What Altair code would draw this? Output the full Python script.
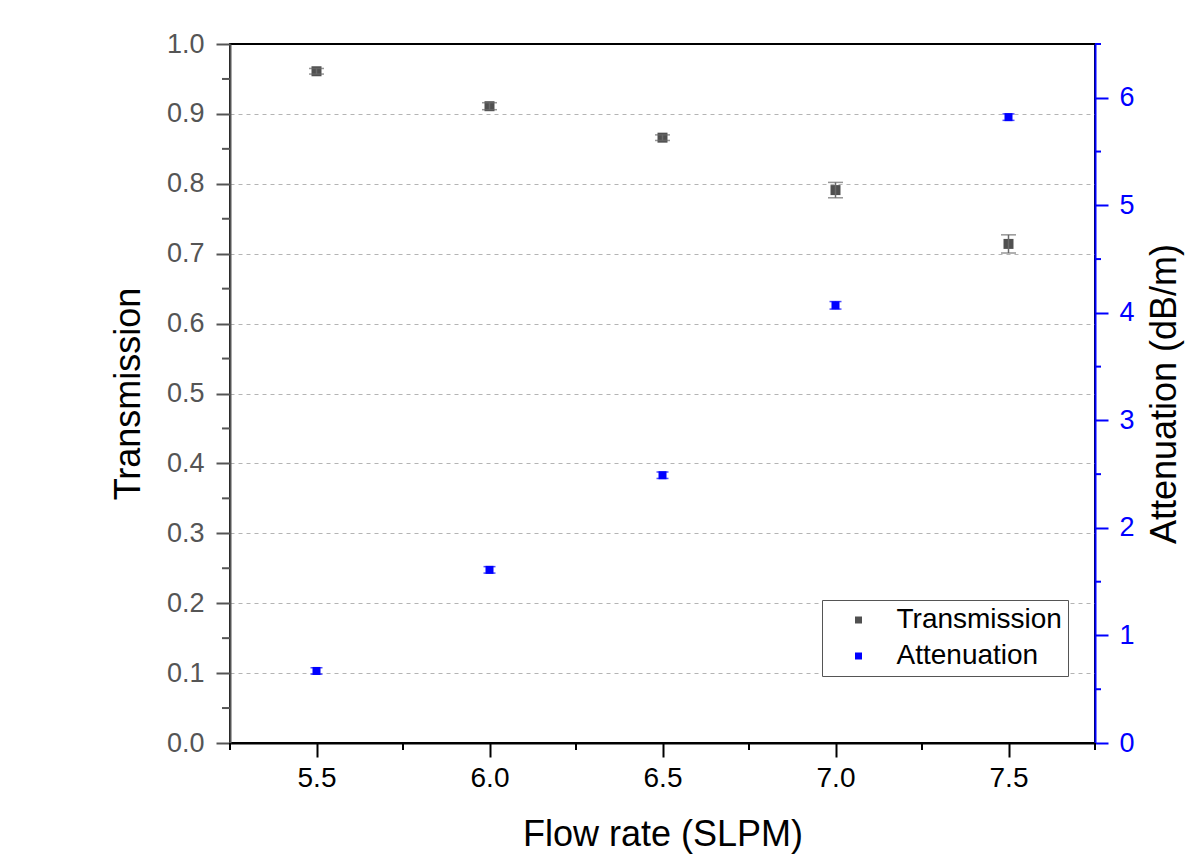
import altair as alt
import pandas as pd

FONT = "Liberation Sans"

# ---- data ----
flow = [5.5, 6.0, 6.5, 7.0, 7.5]
transmission = [0.961, 0.911, 0.866, 0.791, 0.714]
transmission_err = [0.004, 0.005, 0.004, 0.011, 0.013]
attenuation = [0.67, 1.61, 2.49, 4.07, 5.82]
attenuation_err = [0.03, 0.03, 0.03, 0.035, 0.03]

x_ticks = [5.5, 6.0, 6.5, 7.0, 7.5]
x_minor = [5.25, 5.75, 6.25, 6.75, 7.25, 7.75]
t_ticks = [0.0, 0.1, 0.2, 0.3, 0.4, 0.5, 0.6, 0.7, 0.8, 0.9, 1.0]
t_minor = [0.05, 0.15, 0.25, 0.35, 0.45, 0.55, 0.65, 0.75, 0.85, 0.95]
a_ticks = [0, 1, 2, 3, 4, 5, 6]
a_minor = [0.5, 1.5, 2.5, 3.5, 4.5, 5.5, 6.5]

series = ["Transmission", "Attenuation"]
colors = ["#505050", "#0000ff"]

W, H = 865, 699

df_t = pd.DataFrame({
    "flow": flow,
    "val": transmission,
    "lo": [v - e for v, e in zip(transmission, transmission_err)],
    "hi": [v + e for v, e in zip(transmission, transmission_err)],
    "series": series[0],
})
df_a = pd.DataFrame({
    "flow": flow,
    "val": attenuation,
    "lo": [v - e for v, e in zip(attenuation, attenuation_err)],
    "hi": [v + e for v, e in zip(attenuation, attenuation_err)],
    "series": series[1],
})

xscale = alt.Scale(domain=[5.25, 7.75], nice=False, zero=False)
tscale = alt.Scale(domain=[0, 1], nice=False)
ascale = alt.Scale(domain=[0, 6.5], nice=False)
cscale = alt.Scale(domain=series, range=colors)

xaxis = alt.Axis(
    values=x_ticks, format=".1f", grid=False,
    domainColor="black", domainWidth=2, tickColor="black", tickWidth=2, tickSize=14,
    labelFontSize=28, labelColor="black", labelPadding=7, labelFlush=False,
    title="Flow rate (SLPM)", titleFontSize=36, titleFontWeight="normal",
    titleColor="black", titleY=102, titleBaseline="alphabetic",
)
taxis = alt.Axis(
    values=t_ticks, format=".1f", grid=True, gridDash=[4, 4], gridColor="#b4b4b4", gridWidth=1,
    gridOpacity={"condition": {"test": "datum.value <= 0 || datum.value >= 1", "value": 0}, "value": 1},
    domainColor="#555555", domainWidth=2, tickColor="#555555", tickWidth=2, tickSize=14,
    labelFontSize=27, labelColor="#555555", labelPadding=12,
    title="Transmission", titleFontSize=36, titleFontWeight="normal", titleColor="black",
    titleAngle=270, titleX=-91, titleY=H / 2, titleBaseline="alphabetic", titleAlign="center",
)
aaxis = alt.Axis(
    orient="right", values=a_ticks, format="d", grid=False,
    domainColor="#0000ff", domainWidth=2, tickColor="#0000ff", tickWidth=2, tickSize=13,
    labelFontSize=27, labelColor="#0000ff", labelPadding=11,
    title="Attenuation (dB/m)", titleFontSize=36, titleFontWeight="normal", titleColor="black",
    titleAngle=270, titleX=80, titleY=H / 2, titleBaseline="alphabetic", titleAlign="center",
)

legend = alt.Legend(
    orient="none", legendX=592, legendY=556, title=None,
    symbolType="square", symbolSize=49, symbolStrokeWidth=0,
    labelFontSize=28, labelColor="black", labelFont=FONT, labelLimit=400,
    padding=6, rowPadding=8, labelOffset=24, symbolOffset=16.5,
    strokeColor="#555555", fillColor="white",
)


def group(df, scale, axis, err_color, pt_size, cap_size, minor_vals, minor_x0, minor_x1):
    base = alt.Chart(df)
    X = alt.X("flow:Q", scale=xscale, axis=xaxis)
    pts = base.mark_point(shape="square", filled=True, size=pt_size, opacity=1).encode(
        x=X, y=alt.Y("val:Q", scale=scale, axis=axis),
        color=alt.Color("series:N", scale=cscale, legend=legend))
    err = base.mark_rule(color=err_color, strokeWidth=1.5).encode(
        x=X, y=alt.Y("lo:Q", scale=scale, axis=axis), y2="hi:Q")
    cap_hi = base.mark_tick(orient="horizontal", size=cap_size, thickness=1.5, color=err_color).encode(
        x=X, y=alt.Y("hi:Q", scale=scale, axis=axis))
    cap_lo = base.mark_tick(orient="horizontal", size=cap_size, thickness=1.5, color=err_color).encode(
        x=X, y=alt.Y("lo:Q", scale=scale, axis=axis))
    minor = alt.Chart(pd.DataFrame({"v": minor_vals})).mark_rule(
        color=axis.domainColor, strokeWidth=2).encode(
        y=alt.Y("v:Q", scale=scale, axis=axis),
        x=alt.value(minor_x0), x2=alt.value(minor_x1))
    return [pts, err, cap_hi, cap_lo, minor]


t_layers = group(df_t, tscale, taxis, "#6a6a6a", 100, 15, t_minor, -8, 0)
x_minor_rules = alt.Chart(pd.DataFrame({"m": x_minor})).mark_rule(
    color="black", strokeWidth=2).encode(
    x=alt.X("m:Q", scale=xscale, axis=xaxis), y=alt.value(H), y2=alt.value(H + 7))
t_group = alt.layer(*t_layers, x_minor_rules)

a_layers = group(df_a, ascale, aaxis, "#0000ff", 64, 12, a_minor, W, W + 6)
a_group = alt.layer(*a_layers)

chart = alt.layer(t_group, a_group).resolve_scale(y="independent").properties(
    width=W, height=H,
    autosize=alt.AutoSizeParams(type="none"),
    padding={"left": 222, "top": 36, "right": 96, "bottom": 114},
    background="white",
).configure_view(stroke="black", strokeWidth=2).configure_axis(
    labelFont=FONT, titleFont=FONT
).configure_legend(labelFont=FONT)

chart.save("out.html", embed_options={"renderer": "svg", "actions": False})
